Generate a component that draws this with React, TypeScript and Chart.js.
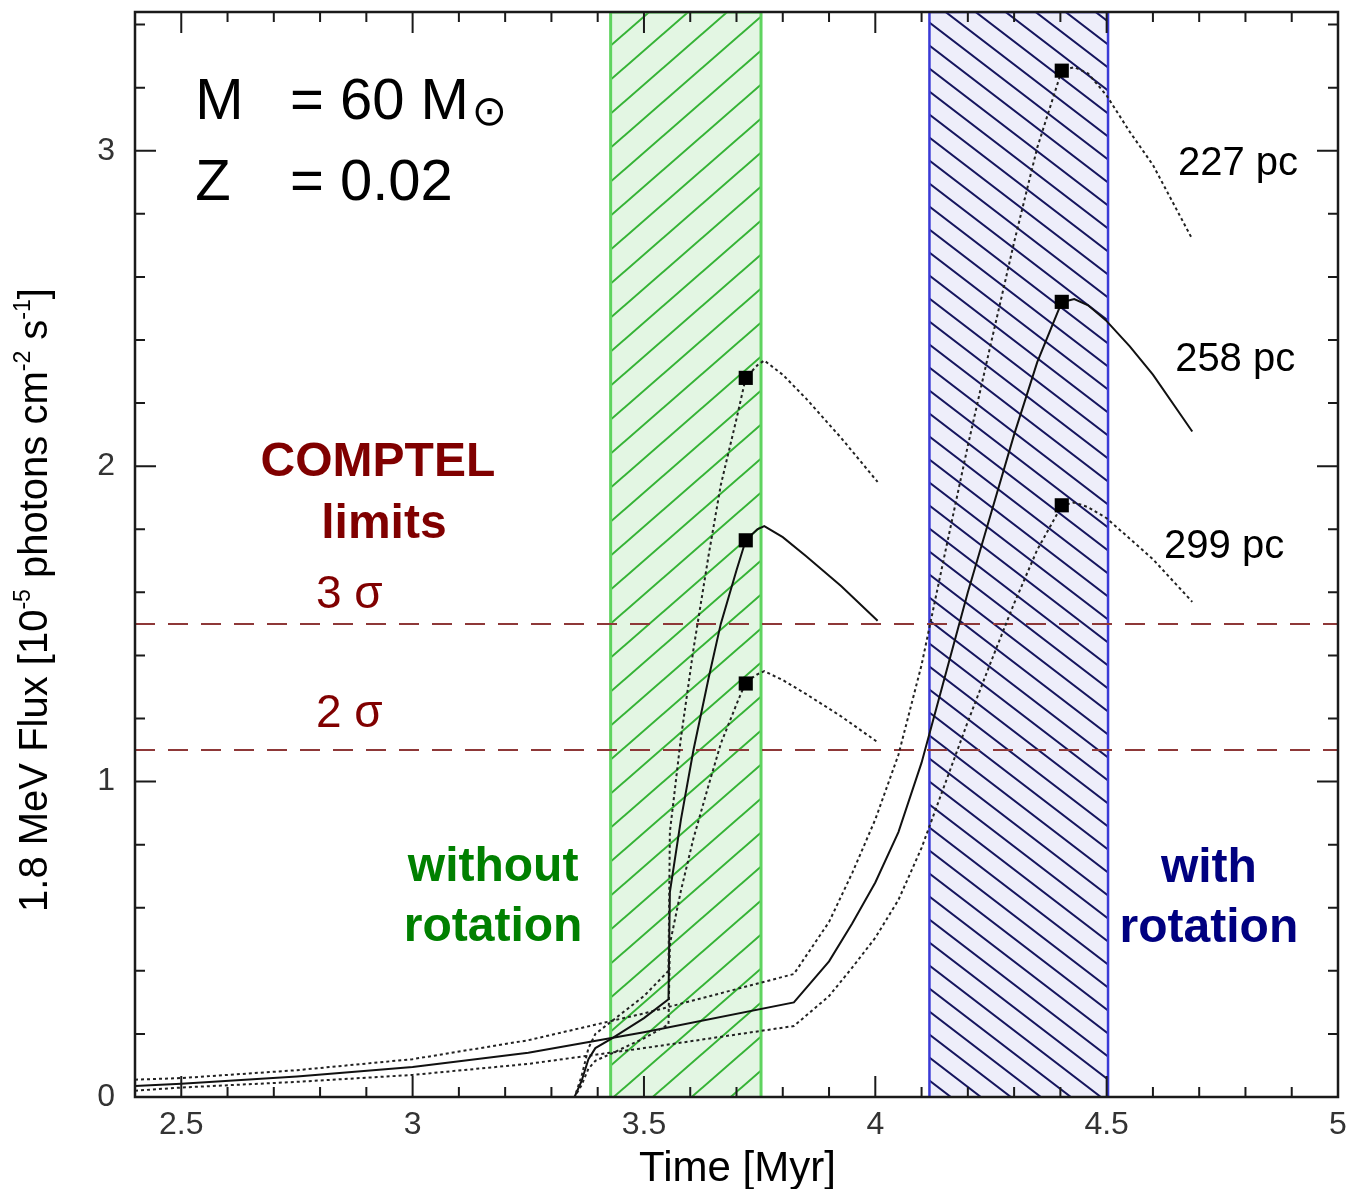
import React, { useEffect, useRef } from "react";
import { Chart, registerables } from "chart.js";

Chart.register(...registerables);

// ---------- axes ----------
const X_MIN = 2.4;
const X_MAX = 5.0;
const Y_MIN = 0;
const Y_MAX = 3.44;
const xTickValues = [2.5, 3, 3.5, 4, 4.5, 5];
const yTickValues = [0, 1, 2, 3];
const xMinorStep = 0.1;
const yMinorStep = 0.2;

// ---------- shaded bands (Myr) ----------
const bandNoRotation = [3.428, 3.753];
const bandWithRotation = [4.117, 4.503];

// ---------- COMPTEL limits ----------
const sigmaLevels = [1.5, 1.1];
const sigmaLabels = ["3 σ", "2 σ"];

// ---------- models without rotation ----------
const timeNoRot = [2.4, 3.35, 3.365, 3.38, 3.395, 3.43, 3.5, 3.553, 3.556, 3.58, 3.607, 3.64, 3.666, 3.7, 3.72, 3.745, 3.76, 3.8, 3.85, 3.926, 4.005];
const flux227NoRot = [0, 0, 0.065, 0.155, 0.2, 0.24, 0.32, 0.4, 0.84, 1.14, 1.42, 1.72, 1.94, 2.15, 2.28, 2.32, 2.335, 2.29, 2.215, 2.09, 1.95];
const flux258NoRot = [0, 0, 0.05, 0.12, 0.155, 0.185, 0.25, 0.31, 0.65, 0.88, 1.1, 1.33, 1.5, 1.67, 1.765, 1.8, 1.81, 1.775, 1.715, 1.62, 1.51];
const flux299NoRot = [0, 0, 0.037, 0.09, 0.115, 0.138, 0.186, 0.23, 0.485, 0.655, 0.82, 0.99, 1.12, 1.245, 1.315, 1.34, 1.35, 1.322, 1.278, 1.207, 1.125];

// ---------- models with rotation ----------
const timeRot = [2.4, 2.5, 2.75, 3.0, 3.25, 3.5, 3.824, 3.9, 3.95, 4.0, 4.05, 4.1, 4.15, 4.2, 4.25, 4.3, 4.35, 4.403, 4.43, 4.46, 4.5, 4.55, 4.6, 4.685];
const flux227Rot = [0.055, 0.06, 0.085, 0.12, 0.18, 0.265, 0.39, 0.555, 0.71, 0.88, 1.085, 1.37, 1.72, 2.065, 2.39, 2.71, 3.01, 3.255, 3.265, 3.245, 3.175, 3.06, 2.955, 2.72];
const flux258Rot = [0.035, 0.042, 0.065, 0.095, 0.14, 0.205, 0.3, 0.43, 0.55, 0.68, 0.84, 1.06, 1.33, 1.6, 1.85, 2.1, 2.33, 2.52, 2.53, 2.51, 2.46, 2.38, 2.29, 2.11];
const flux299Rot = [0.02, 0.03, 0.048, 0.07, 0.105, 0.155, 0.225, 0.32, 0.41, 0.505, 0.625, 0.79, 0.99, 1.19, 1.38, 1.565, 1.735, 1.875, 1.885, 1.87, 1.835, 1.77, 1.705, 1.57];

// ---------- markers ----------
const markerTimeNoRot = [3.72, 3.72, 3.72];
const markerFluxNoRot = [2.28, 1.765, 1.311];
const markerTimeRot = [4.403, 4.403, 4.403];
const markerFluxRot = [3.254, 2.521, 1.876];
const distanceLabels = ["227 pc", "258 pc", "299 pc"];

const SANS = "'Liberation Sans', Arial, Helvetica, sans-serif";

const pts = (xs: number[], ys: number[]) => xs.map((x, i) => ({ x, y: ys[i] }));

function makeHatch(bg: string, line: string, w: number, h: number, dir: "/" | "\\", lw: number) {
  const c = document.createElement("canvas");
  c.width = w;
  c.height = h;
  const g = c.getContext("2d")!;
  g.fillStyle = bg;
  g.fillRect(0, 0, w, h);
  g.strokeStyle = line;
  g.lineWidth = lw;
  g.beginPath();
  for (let k = -1; k <= 1; k++) {
    if (dir === "/") {
      g.moveTo(-w, 2 * h + k * h);
      g.lineTo(2 * w, -h + k * h);
    } else {
      g.moveTo(-w, -h + k * h);
      g.lineTo(2 * w, 2 * h + k * h);
    }
  }
  g.stroke();
  return g.createPattern(c, "repeat")!;
}

const decorPlugin = {
  id: "decor",
  afterDraw(chart: any) {
    const { ctx, chartArea } = chart;
    const xs = chart.scales.x;
    const ys = chart.scales.y;
    const { left, right, top, bottom } = chartArea;
    const X = (v: number) => xs.getPixelForValue(v);
    const Y = (v: number) => ys.getPixelForValue(v);
    ctx.save();

    // frame
    ctx.strokeStyle = "#1a1a1a";
    ctx.lineWidth = 2.5;
    ctx.strokeRect(left, top, right - left, bottom - top);

    // ticks (inward, all four sides)
    ctx.lineWidth = 2;
    ctx.beginPath();
    for (let v = X_MIN; v <= X_MAX + 1e-9; v += xMinorStep) {
      const r = Math.round(v * 10) / 10;
      const major = xTickValues.some((t) => Math.abs(t - r) < 1e-6);
      const len = major ? 21 : 10;
      const px = X(r);
      ctx.moveTo(px, bottom);
      ctx.lineTo(px, bottom - len);
      ctx.moveTo(px, top);
      ctx.lineTo(px, top + len);
    }
    for (let v = Y_MIN; v <= Y_MAX + 1e-9; v += yMinorStep) {
      const r = Math.round(v * 10) / 10;
      const major = yTickValues.some((t) => Math.abs(t - r) < 1e-6);
      const len = major ? 21 : 10;
      const py = Y(r);
      ctx.moveTo(left, py);
      ctx.lineTo(left + len, py);
      ctx.moveTo(right, py);
      ctx.lineTo(right - len, py);
    }
    ctx.stroke();

    // axis titles
    ctx.fillStyle = "#000";
    ctx.textAlign = "center";
    ctx.textBaseline = "alphabetic";
    ctx.font = `42px ${SANS}`;
    ctx.fillText("Time [Myr]", (left + right) / 2 + 1, 1181);

    const size = 40;
    const parts: [string, boolean][] = [
      ["1.8 MeV Flux [10", false],
      ["-5", true],
      [" photons cm", false],
      ["-2", true],
      [" s", false],
      ["-1", true],
      ["]", false],
    ];
    const fontFor = (sup: boolean) => `${sup ? Math.round(size * 0.58) : size}px ${SANS}`;
    let total = 0;
    for (const [t, sup] of parts) {
      ctx.font = fontFor(sup);
      total += ctx.measureText(t).width;
    }
    ctx.save();
    ctx.translate(47, 600);
    ctx.rotate(-Math.PI / 2);
    ctx.textAlign = "left";
    let cx = -total / 2;
    for (const [t, sup] of parts) {
      ctx.font = fontFor(sup);
      ctx.fillText(t, cx, sup ? -size * 0.42 : 0);
      cx += ctx.measureText(t).width;
    }
    ctx.restore();

    // annotations
    const text = (s: string, x: number, y: number, font: string, color: string, align: CanvasTextAlign) => {
      ctx.font = font;
      ctx.fillStyle = color;
      ctx.textAlign = align;
      ctx.textBaseline = "alphabetic";
      ctx.fillText(s, X(x), Y(y));
    };
    const big = `58px ${SANS}`;
    text("M", 2.53, 3.101, big, "#000", "left");
    text("= 60 M", 2.735, 3.101, big, "#000", "left");
    ctx.font = "42px 'DejaVu Sans', sans-serif";
    ctx.textAlign = "center";
    ctx.textBaseline = "middle";
    ctx.fillStyle = "#000";
    ctx.fillText("⊙", X(3.166), Y(3.115));
    text("Z", 2.53, 2.844, big, "#000", "left");
    text("= 0.02", 2.735, 2.844, big, "#000", "left");

    const maroon = "#800000";
    const bold48 = `bold 48px ${SANS}`;
    text("COMPTEL", 2.925, 1.969, bold48, maroon, "center");
    text("limits", 2.938, 1.772, bold48, maroon, "center");
    text(sigmaLabels[0], 2.791, 1.55, `46px ${SANS}`, maroon, "left");
    text(sigmaLabels[1], 2.791, 1.173, `46px ${SANS}`, maroon, "left");

    text("without", 3.174, 0.685, bold48, "#008000", "center");
    text("rotation", 3.174, 0.495, bold48, "#008000", "center");
    text("with", 4.721, 0.682, bold48, "#000080", "center");
    text("rotation", 4.721, 0.491, bold48, "#000080", "center");

    const pc = `40px ${SANS}`;
    text(distanceLabels[0], 4.654, 2.923, pc, "#000", "left");
    text(distanceLabels[1], 4.648, 2.302, pc, "#000", "left");
    text(distanceLabels[2], 4.624, 1.709, pc, "#000", "left");

    ctx.restore();
  },
};

export default function App() {
  const ref = useRef<HTMLCanvasElement | null>(null);

  useEffect(() => {
    const canvas = ref.current;
    if (!canvas) return;

    const greenHatch = makeHatch("#e3f6e3", "#36b336", 39, 34, "/", 2);
    const blueHatch = makeHatch("#eeeefa", "#16165e", 30, 23, "\\", 2);

    const band = (b: number[]) => [
      { x: b[0], y: Y_MIN },
      { x: b[0], y: Y_MAX },
      { x: b[1], y: Y_MAX },
      { x: b[1], y: Y_MIN },
    ];

    const curve = (xs: number[], ys: number[], dotted: boolean) => ({
      type: "line" as const,
      data: pts(xs, ys),
      borderColor: dotted ? "#222" : "#111",
      borderWidth: 2,
      borderDash: dotted ? [3, 3] : [],
      pointRadius: 0,
      fill: false,
      tension: 0,
      order: 2,
    });

    const markers = (xs: number[], ys: number[]) => ({
      type: "scatter" as const,
      data: pts(xs, ys),
      pointStyle: "rect",
      pointRadius: 10,
      backgroundColor: "#000",
      borderColor: "#000",
      borderWidth: 0,
      showLine: false,
      order: 0,
    });

    const chart = new Chart(canvas, {
      type: "line",
      data: {
        datasets: [
          {
            type: "line",
            data: band(bandNoRotation),
            borderColor: "#5fd35f",
            borderWidth: 3,
            backgroundColor: greenHatch as any,
            fill: "origin",
            pointRadius: 0,
            tension: 0,
            order: 10,
          },
          {
            type: "line",
            data: band(bandWithRotation),
            borderColor: "#3a3ad6",
            borderWidth: 2.5,
            backgroundColor: blueHatch as any,
            fill: "origin",
            pointRadius: 0,
            tension: 0,
            order: 10,
          },
          ...sigmaLevels.map((lvl) => ({
            type: "line" as const,
            data: [
              { x: X_MIN, y: lvl },
              { x: X_MAX, y: lvl },
            ],
            borderColor: "#8e3838",
            borderWidth: 2,
            borderDash: [20, 13],
            pointRadius: 0,
            fill: false,
            order: 5,
          })),
          curve(timeNoRot, flux227NoRot, true),
          curve(timeNoRot, flux258NoRot, false),
          curve(timeNoRot, flux299NoRot, true),
          curve(timeRot, flux227Rot, true),
          curve(timeRot, flux258Rot, false),
          curve(timeRot, flux299Rot, true),
          markers(markerTimeNoRot, markerFluxNoRot),
          markers(markerTimeRot, markerFluxRot),
        ] as any,
      },
      options: {
        animation: false,
        responsive: false,
        maintainAspectRatio: false,
        layout: { padding: { top: 12, right: 18, left: 0, bottom: 0 } },
        plugins: {
          legend: { display: false },
          tooltip: { enabled: false },
          title: { display: false },
        },
        scales: {
          x: {
            type: "linear",
            min: X_MIN,
            max: X_MAX,
            grid: { display: false, drawTicks: false },
            border: { display: false },
            ticks: {
              padding: 9,
              color: "#333",
              font: { family: SANS, size: 32 },
              maxRotation: 0,
              autoSkip: false,
              callback: (v: any) => String(v),
            },
            afterBuildTicks: (s: any) => {
              s.ticks = xTickValues.map((v) => ({ value: v }));
            },
            afterFit: (s: any) => {
              s.height = 92;
              s.paddingLeft = 0;
              s.paddingRight = 0;
              s.paddingTop = 0;
              s.paddingBottom = 0;
            },
          },
          y: {
            type: "linear",
            min: Y_MIN,
            max: Y_MAX,
            grid: { display: false, drawTicks: false },
            border: { display: false },
            ticks: {
              padding: 20,
              color: "#333",
              font: { family: SANS, size: 32 },
              autoSkip: false,
              callback: (v: any) => String(v),
            },
            afterBuildTicks: (s: any) => {
              s.ticks = yTickValues.map((v) => ({ value: v }));
            },
            afterFit: (s: any) => {
              s.width = 135;
              s.paddingLeft = 0;
              s.paddingRight = 0;
              s.paddingTop = 0;
              s.paddingBottom = 0;
            },
          },
        },
      } as any,
      plugins: [decorPlugin],
    });

    return () => chart.destroy();
  }, []);

  return (
    <div style={{ position: "absolute", left: 0, top: 0, width: 1356, height: 1189, background: "#fff" }}>
      <canvas ref={ref} width={1356} height={1189} style={{ display: "block" }} />
    </div>
  );
}
